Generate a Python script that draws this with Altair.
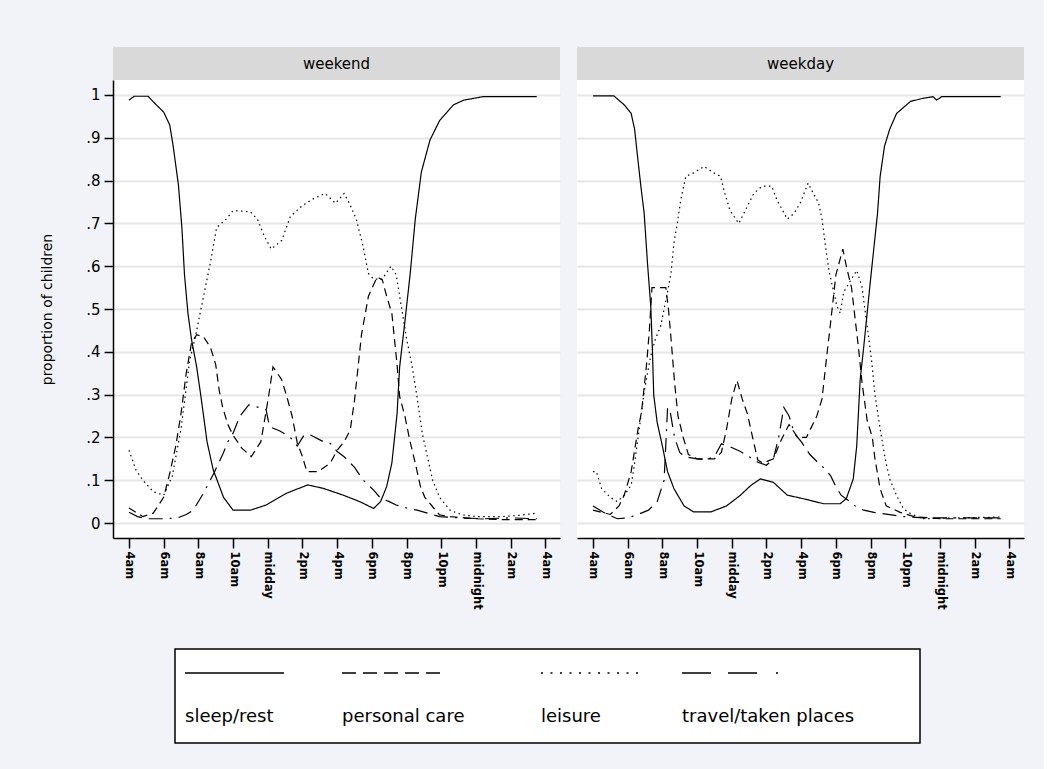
import json
import altair as alt
import pandas as pd

FONT = "DejaVu Sans"

ACTIVITIES = ["sleep/rest", "personal care", "leisure", "travel/taken places"]
DAYS = ["weekend", "weekday"]
TICK_HOURS = [4, 6, 8, 10, 12, 14, 16, 18, 20, 22, 24, 26, 28]
TICK_LABELS = ["4am", "6am", "8am", "10am", "midday", "2pm", "4pm", "6pm",
               "8pm", "10pm", "midnight", "2am", "4am"]
Y_TICKS = [0, 0.1, 0.2, 0.3, 0.4, 0.5, 0.6, 0.7, 0.8, 0.9, 1.0]

# ---------------- weekend ----------------
sleep_we_h = [4.0, 4.3, 5.1, 5.5, 6.0, 6.35, 6.55, 6.85, 7.05, 7.2, 7.4, 7.6, 7.9, 8.15, 8.5,
              8.85, 9.45, 10.0, 11.0, 11.9, 13.1, 14.3, 15.2, 16.35, 17.3, 18.1, 18.5, 18.85,
              19.15, 19.45, 19.6, 19.9, 20.2, 20.5, 20.85, 21.35, 21.9, 22.7, 23.3, 24.4, 27.5]
sleep_we_v = [0.988, 0.997, 0.997, 0.98, 0.96, 0.93, 0.88, 0.79, 0.69, 0.58, 0.49, 0.43, 0.365,
              0.295, 0.19, 0.125, 0.06, 0.03, 0.03, 0.042, 0.07, 0.089, 0.081, 0.065, 0.05, 0.034,
              0.05, 0.085, 0.14, 0.255, 0.365, 0.47, 0.58, 0.71, 0.82, 0.895, 0.94, 0.977, 0.988,
              0.996, 0.996]

care_we_h = [4.0, 4.8, 5.4, 6.0, 6.35, 6.7, 7.0, 7.3, 7.6, 7.9, 8.3, 8.7, 9.0, 9.2, 9.4, 9.7,
             10.0, 10.5, 11.05, 11.6, 11.9, 12.1, 12.3, 12.8, 13.1, 13.4, 13.7, 14.0, 14.25, 14.9,
             15.6, 16.0, 16.4, 16.75, 17.0, 17.4, 17.8, 18.3, 18.6, 18.85, 19.15, 19.3, 19.45,
             19.6, 19.9, 20.2, 20.5, 20.8, 21.05, 21.5, 21.9, 22.5, 24.0, 25.5, 27.5]
care_we_v = [0.035, 0.015, 0.023, 0.06, 0.116, 0.18, 0.256, 0.35, 0.42, 0.44, 0.435, 0.41, 0.37,
             0.31, 0.27, 0.23, 0.205, 0.175, 0.155, 0.19, 0.26, 0.31, 0.365, 0.335, 0.295, 0.25,
             0.187, 0.155, 0.12, 0.12, 0.14, 0.17, 0.19, 0.217, 0.287, 0.44, 0.53, 0.575, 0.568,
             0.53, 0.49, 0.43, 0.37, 0.295, 0.25, 0.19, 0.14, 0.085, 0.06, 0.038, 0.019, 0.015,
             0.01, 0.008, 0.008]

leis_we_h = [4.0, 4.4, 4.8, 5.4, 6.0, 6.5, 7.0, 7.5, 7.8, 8.1, 8.4, 8.7, 9.05, 9.6, 10.0, 11.0,
             11.4, 11.8, 12.2, 12.8, 13.3, 13.95, 14.5, 15.3, 15.9, 16.4, 16.7, 17.1, 17.5, 17.8,
             18.1, 18.6, 19.1, 19.4, 19.6, 20.0, 20.3, 20.6, 20.9, 21.2, 21.5, 21.9, 22.5, 23.2,
             24.0, 25.5, 26.5, 27.5]
leis_we_v = [0.17, 0.124, 0.10, 0.073, 0.065, 0.11, 0.22, 0.38, 0.43, 0.49, 0.55, 0.61, 0.69,
             0.71, 0.73, 0.727, 0.71, 0.67, 0.64, 0.66, 0.716, 0.74, 0.755, 0.77, 0.747, 0.77,
             0.747, 0.71, 0.645, 0.583, 0.57, 0.57, 0.60, 0.58, 0.53, 0.43, 0.37, 0.295, 0.21,
             0.155, 0.10, 0.06, 0.03, 0.019, 0.015, 0.015, 0.018, 0.023]

trav_we_h = [4.0, 4.5, 5.0, 6.0, 6.8, 7.3, 7.7, 8.3, 8.9, 9.4, 9.7, 10.0, 10.4, 10.9, 11.5,
             11.9, 12.1, 12.7, 13.3, 13.7, 14.1, 14.5, 15.2, 15.6, 16.0, 16.4, 17.0, 17.5, 18.1,
             18.5, 19.0, 19.4, 20.0, 20.6, 21.3, 21.9, 23.0, 24.5, 26.0, 27.5]
trav_we_v = [0.025, 0.015, 0.01, 0.01, 0.012, 0.02, 0.03, 0.07, 0.117, 0.16, 0.19, 0.21, 0.25,
             0.276, 0.27, 0.265, 0.225, 0.215, 0.2, 0.18, 0.206, 0.205, 0.19, 0.186, 0.167,
             0.155, 0.13, 0.10, 0.077, 0.058, 0.05, 0.042, 0.035, 0.03, 0.022, 0.015, 0.012,
             0.01, 0.012, 0.01]

# ---------------- weekday ----------------
sleep_wd_h = [4.0, 5.2, 5.8, 6.2, 6.4, 6.57, 6.76, 6.95, 7.14, 7.33, 7.43, 7.5, 7.7, 8.0, 8.3,
              8.67, 9.25, 9.8, 10.8, 11.7, 12.5, 13.1, 13.65, 14.4, 15.2, 16.1, 17.3, 18.25,
              18.6, 19.0, 19.2, 19.4, 19.6, 19.8, 20.0, 20.2, 20.4, 20.55, 20.8, 21.1, 21.5,
              22.3, 23.0, 23.6, 23.8, 24.1, 27.5]
sleep_wd_v = [0.998, 0.998, 0.977, 0.957, 0.92, 0.856, 0.787, 0.724, 0.608, 0.507, 0.40, 0.30,
              0.235, 0.18, 0.12, 0.08, 0.04, 0.026, 0.026, 0.04, 0.065, 0.088, 0.103, 0.095,
              0.065, 0.057, 0.045, 0.045, 0.057, 0.103, 0.18, 0.336, 0.41, 0.49, 0.57, 0.647,
              0.724, 0.81, 0.88, 0.92, 0.957, 0.985, 0.992, 0.996, 0.988, 0.996, 0.996]

care_wd_h = [4.0, 4.5, 5.0, 5.5, 5.8, 6.2, 6.6, 6.8, 7.1, 7.25, 7.4, 8.2, 8.35, 8.5, 8.7, 8.9,
             9.2, 9.5, 10.0, 10.5, 11.0, 11.4, 11.7, 12.0, 12.3, 12.6, 12.9, 13.2, 13.5, 13.8,
             14.4, 14.8, 15.3, 15.8, 16.3, 16.9, 17.2, 17.5, 17.7, 18.0, 18.4, 18.6, 18.9, 19.1,
             19.3, 19.5, 19.8, 20.1, 20.25, 20.55, 20.9, 21.7, 22.5, 24.0, 25.5, 27.5]
care_wd_v = [0.03, 0.025, 0.02, 0.04, 0.065, 0.12, 0.22, 0.26, 0.375, 0.45, 0.55, 0.55, 0.50,
             0.43, 0.33, 0.25, 0.20, 0.16, 0.15, 0.15, 0.15, 0.165, 0.22, 0.29, 0.333, 0.29,
             0.255, 0.20, 0.147, 0.14, 0.15, 0.19, 0.23, 0.20, 0.20, 0.25, 0.29, 0.40, 0.47,
             0.58, 0.64, 0.60, 0.55, 0.48, 0.41, 0.33, 0.24, 0.20, 0.15, 0.08, 0.04, 0.025,
             0.015, 0.01, 0.01, 0.01]

leis_wd_h = [4.0, 4.2, 4.5, 5.0, 5.4, 5.8, 6.2, 6.4, 6.6, 6.8, 6.95, 7.14, 7.33, 7.6, 7.9, 8.3,
             8.5, 8.67, 8.86, 9.06, 9.35, 9.8, 10.4, 10.97, 11.35, 11.6, 11.9, 12.4, 12.7,
             13.27, 13.75, 14.3, 14.6, 15.2, 15.6, 15.95, 16.4, 16.7, 17.0, 17.2, 17.4, 17.6,
             17.8, 18.06, 18.25, 18.45, 18.9, 19.2, 19.5, 19.7, 19.9, 20.07, 20.26, 20.55,
             20.84, 21.1, 21.5, 21.9, 22.3, 23.0, 25.0, 27.5]
leis_wd_v = [0.12, 0.12, 0.08, 0.06, 0.05, 0.065, 0.088, 0.14, 0.20, 0.26, 0.305, 0.35, 0.39,
             0.43, 0.46, 0.54, 0.585, 0.655, 0.70, 0.755, 0.81, 0.818, 0.833, 0.818, 0.81, 0.77,
             0.73, 0.70, 0.724, 0.77, 0.787, 0.787, 0.755, 0.71, 0.724, 0.748, 0.794, 0.77,
             0.748, 0.71, 0.647, 0.59, 0.553, 0.507, 0.49, 0.54, 0.57, 0.59, 0.553, 0.49, 0.43,
             0.375, 0.297, 0.22, 0.15, 0.103, 0.064, 0.033, 0.022, 0.01, 0.012, 0.014]

trav_wd_h = [4.0, 4.6, 5.4, 6.0, 6.6, 7.2, 7.7, 8.1, 8.3, 8.45, 8.7, 9.0, 9.3, 10.0, 10.5, 11.0,
             11.4, 11.8, 12.5, 13.0, 13.5, 14.0, 14.4, 14.7, 15.0, 15.3, 15.6, 16.0, 16.5, 17.0,
             17.4, 17.7, 18.0, 18.3, 18.8, 19.2, 19.6, 20.2, 21.0, 21.9, 23.0, 25.0, 27.5]
trav_wd_v = [0.04, 0.025, 0.01, 0.012, 0.02, 0.03, 0.05, 0.10, 0.27, 0.26, 0.20, 0.165, 0.155,
             0.15, 0.148, 0.155, 0.185, 0.18, 0.167, 0.155, 0.142, 0.135, 0.15, 0.20, 0.27,
             0.25, 0.21, 0.19, 0.16, 0.14, 0.125, 0.11, 0.085, 0.065, 0.05, 0.037, 0.03, 0.025,
             0.02, 0.015, 0.012, 0.012, 0.012]

SERIES = {
    ("weekend", "sleep/rest"): (sleep_we_h, sleep_we_v),
    ("weekend", "personal care"): (care_we_h, care_we_v),
    ("weekend", "leisure"): (leis_we_h, leis_we_v),
    ("weekend", "travel/taken places"): (trav_we_h, trav_we_v),
    ("weekday", "sleep/rest"): (sleep_wd_h, sleep_wd_v),
    ("weekday", "personal care"): (care_wd_h, care_wd_v),
    ("weekday", "leisure"): (leis_wd_h, leis_wd_v),
    ("weekday", "travel/taken places"): (trav_wd_h, trav_wd_v),
}

rows = []
for (day, act), (hs, vs) in SERIES.items():
    for h, v in zip(hs, vs):
        rows.append({"day": day, "activity": act, "h": h, "v": v})
df = pd.DataFrame(rows)

# line styles: plot and legend
DASHES = [[1, 0], [8, 5], [1.5, 3.5], [14, 7, 14, 7, 2, 7]]
LEG_DASHES = [[1, 0], [14, 7], [2, 7.5], [29, 17, 29, 19, 2, 60]]

PW, PH = 447, 458
HDR = 33
X_DOMAIN = [3.08, 28.84]
Y_DOMAIN = [-0.035, 1.035]

x_label_expr = json.dumps(TICK_LABELS) + "[round((datum.value - 4) / 2)]"
y_label_expr = ("datum.value == 0 ? '0' : datum.value == 1 ? '1' : "
                "replace(format(datum.value, '.1f'), '0.', '.')")


def panel(day, first):
    d = df[df["day"] == day]
    x_axis = alt.Axis(values=TICK_HOURS, labelExpr=x_label_expr, labelAngle=90,
                      labelAlign="left", labelBaseline="middle", labelFontSize=11.5,
                      labelFontWeight="bold", labelColor="black", labelFont=FONT,
                      labelPadding=3, tickSize=10, tickColor="black", tickWidth=1.5,
                      domainColor="black", domainWidth=1.5, grid=False, title=None,
                      labelOverlap=False)
    if first:
        y_axis = alt.Axis(values=Y_TICKS, labelExpr=y_label_expr, labelFontSize=15,
                          labelColor="black", labelFont=FONT, labelPadding=4, tickSize=9,
                          tickColor="black", tickWidth=1.5, domainColor="black",
                          domainWidth=1.5, grid=True, gridColor="#e6e6e8", gridWidth=2,
                          title="proportion of children", titleFont=FONT, titleFontSize=14,
                          titleFontWeight="normal", titleColor="black", titlePadding=31,
                          labelOverlap=False)
    else:
        y_axis = alt.Axis(values=Y_TICKS, labels=False, ticks=False, domain=False,
                          grid=True, gridColor="#e6e6e8", gridWidth=2, title=None)
    lines = alt.Chart(d).mark_line(color="black", strokeWidth=1.2).encode(
        x=alt.X("h:Q", scale=alt.Scale(domain=X_DOMAIN, nice=False, zero=False), axis=x_axis),
        y=alt.Y("v:Q", scale=alt.Scale(domain=Y_DOMAIN, nice=False, zero=False), axis=y_axis),
        strokeDash=alt.StrokeDash("activity:N",
                                  scale=alt.Scale(domain=ACTIVITIES, range=DASHES),
                                  legend=None),
        order="h:Q",
    )
    hdr_df = pd.DataFrame({"day": [day]})
    hdr_rect = alt.Chart(hdr_df).mark_rect(fill="#d9d9d9").encode(
        x=alt.value(0), x2=alt.value(PW), y=alt.value(-HDR), y2=alt.value(0))
    hdr_text = alt.Chart(hdr_df).mark_text(font=FONT, fontSize=15, color="black",
                                           baseline="middle").encode(
        text="day:N", x=alt.value(PW / 2), y=alt.value(-HDR / 2))
    return alt.layer(hdr_rect, hdr_text, lines).properties(
        width=PW, height=PH, view=alt.ViewBackground(fill="white", strokeWidth=0))


# legend is positioned relative to the left edge of the first plot area (x = 113)
ORIGIN = 113
LW, LH = 920 - ORIGIN, 94
BOX_X0 = 175 - ORIGIN
SYM_X = [185 - ORIGIN, 342 - ORIGIN, 541 - ORIGIN, 682 - ORIGIN]
SYM_LEN = 99

one = pd.DataFrame({"k": [0]})
leg_layers = [alt.Chart(one).mark_rect(fill="white", stroke="black", strokeWidth=1.5).encode(
    x=alt.value(BOX_X0), x2=alt.value(LW), y=alt.value(0), y2=alt.value(LH))]
for i, name in enumerate(ACTIVITIES):
    leg_layers.append(alt.Chart(one).mark_rule(color="black", strokeWidth=1.5,
                                               strokeDash=LEG_DASHES[i]).encode(
        x=alt.value(SYM_X[i]), x2=alt.value(SYM_X[i] + SYM_LEN), y=alt.value(24)))
    leg_layers.append(alt.Chart(one).mark_text(font=FONT, fontSize=18, color="black",
                                               align="left", baseline="middle").encode(
        x=alt.value(SYM_X[i]), y=alt.value(68), text=alt.value(name)))
legend = alt.layer(*leg_layers).properties(
    width=LW, height=LH, view=alt.ViewBackground(fill="transparent", strokeWidth=0))

top = alt.hconcat(panel("weekend", True), panel("weekday", False), spacing=17)
chart = alt.vconcat(top, legend, spacing=38).properties(
    background="#f2f3f8",
    padding={"left": 40, "top": 47, "right": 20, "bottom": 27},
)

chart.save("out.html", embed_options={"renderer": "svg", "actions": False})
